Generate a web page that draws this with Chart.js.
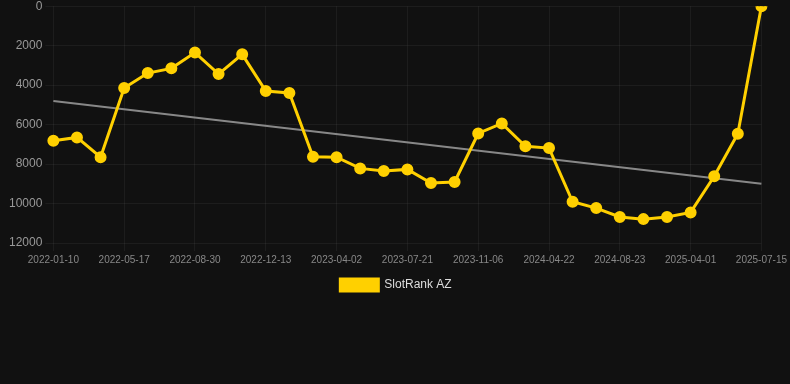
<!DOCTYPE html>
<html>
<head>
<meta charset="utf-8">
<script src="https://cdn.jsdelivr.net/npm/chart.js@4"></script>
<style>
  html, body { margin: 0; padding: 0; background: #111111; overflow: hidden; }
  .wrap { position: relative; width: 790px; height: 305px; margin-top: -4px; }
</style>
</head>
<body>
<div class="wrap"><canvas id="rankChart"></canvas></div>
<script>
// Dates of each rank sample
const dates = [
    '2022-01-10', '2022-02-20', '2022-04-03', '2022-05-17', '2022-06-21', '2022-07-26',
    '2022-08-30', '2022-10-05', '2022-11-08', '2022-12-13', '2023-01-20', '2023-02-25',
    '2023-04-02', '2023-05-09', '2023-06-14', '2023-07-21', '2023-08-26', '2023-10-01',
    '2023-11-06', '2023-12-28', '2024-02-27', '2024-04-22', '2024-06-01', '2024-07-12',
    '2024-08-23', '2024-11-12', '2025-01-31', '2025-04-01', '2025-05-06', '2025-06-10',
    '2025-07-15'
];

// SlotRank AZ values
const rankValues = [
    6820, 6650, 7650, 4150, 3390, 3150,
    2350, 3440, 2440, 4300, 4400, 7630,
    7650, 8220, 8350, 8270, 8960, 8910,
    6450, 5940, 7100, 7190, 9910, 10230,
    10680, 10790, 10680, 10450, 8620, 6460,
    0
];

// Trend line, start and end only
const trendValues = dates.map(() => null);
trendValues[0] = 4800;
trendValues[dates.length - 1] = 9000;

const yTicks = [0, 2000, 4000, 6000, 8000, 10000, 12000];

Chart.defaults.font.family = '"Liberation Sans", Arial, sans-serif';

function initializeRankChart() {
    const ctx = document.getElementById('rankChart').getContext('2d');
    new Chart(ctx, {
        type: 'line',
        data: {
            labels: dates,
            datasets: [{
                label: 'SlotRank AZ',
                data: rankValues,
                borderColor: '#ffd000',
                backgroundColor: '#ffd000',
                borderWidth: 3,
                pointRadius: 4.5,
                pointHoverRadius: 4.5,
                tension: 0
            }, {
                label: 'trend',
                data: trendValues,
                spanGaps: true,
                borderColor: 'rgba(150, 150, 150, 0.9)',
                borderWidth: 2,
                pointRadius: 0,
                tension: 0
            }]
        },
        options: {
            responsive: true,
            maintainAspectRatio: false,
            animation: false,
            layout: { padding: { left: 6, right: 4, top: 0, bottom: 0 } },
            plugins: {
                legend: {
                    position: 'bottom',
                    labels: {
                        color: '#dddddd',
                        font: { size: 12 },
                        boxWidth: 38,
                        boxHeight: 12,
                        filter: item => item.text !== 'trend'
                    }
                },
                tooltip: { enabled: false }
            },
            scales: {
                y: {
                    reverse: true,
                    min: 0,
                    max: 12000,
                    afterBuildTicks: axis => { axis.ticks = yTicks.map(v => ({ value: v })); },
                    ticks: { color: '#999999', font: { size: 12 }, callback: v => String(v) },
                    grid: { color: 'rgba(255, 255, 255, 0.05)' },
                    border: { display: false }
                },
                x: {
                    ticks: {
                        color: '#888888',
                        font: { size: 10 },
                        maxRotation: 0,
                        autoSkip: true,
                        maxTicksLimit: 11
                    },
                    grid: { color: 'rgba(255, 255, 255, 0.05)' },
                    border: { display: false }
                }
            }
        }
    });
}

initializeRankChart();
</script>
</body>
</html>
